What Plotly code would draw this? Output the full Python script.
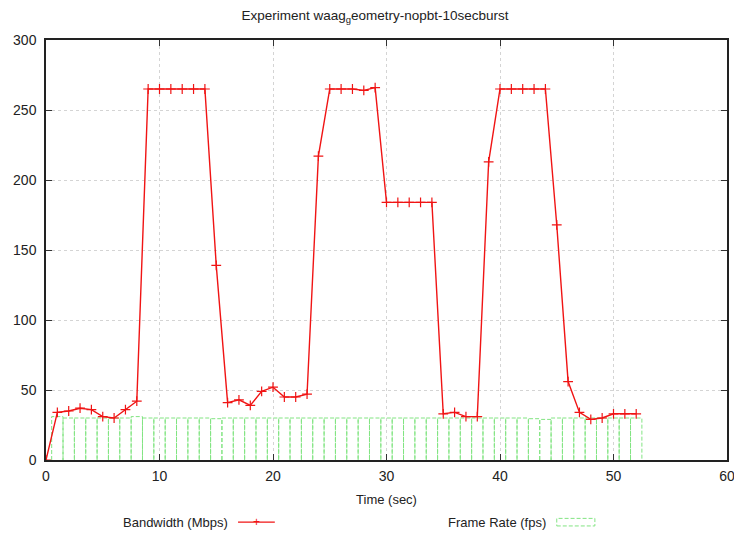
import plotly.graph_objects as go

# ---- data ----
time_s = list(range(0, 53))
bandwidth_mbps = [0, 34, 35, 37, 36, 31, 30, 36, 42, 265,
                  265, 265, 265, 265, 265, 139, 41, 43, 39, 49,
                  52, 45, 45, 47, 217, 265, 265, 265, 264, 266,
                  184, 184, 184, 184, 184, 33, 34, 31, 31, 213,
                  265, 265, 265, 265, 265, 168, 56, 34, 29, 30,
                  33, 33, 33]
frame_time = list(range(1, 53))
frame_rate = [31, 30, 30, 30, 30, 30, 30, 31, 30, 30,
              30, 30, 30, 30, 29.5, 30, 30, 30, 30, 30,
              30, 30, 30, 30, 30, 30, 30, 30, 30, 30,
              30, 30, 30, 30, 30, 30, 30, 30, 30, 30,
              30, 30, 29.5, 29, 30, 30, 30, 30, 30, 30,
              30, 30]
x_ticks = [0, 10, 20, 30, 40, 50, 60]
y_ticks = [0, 50, 100, 150, 200, 250, 300]

GREEN = "rgb(130,228,130)"
RED = "rgb(240,20,20)"

# box outlines for the frame-rate series (boxes of width 1 centred on each sample)
bx, by = [], []
for t, v in zip(frame_time, frame_rate):
    bx += [t - 0.5, t - 0.5, t + 0.5, t + 0.5, None]
    by += [0, v, v, 0, None]

fig = go.Figure()
fig.add_trace(go.Scatter(x=bx, y=by, mode="lines",
                         line=dict(color=GREEN, width=1, dash="4px,2px"),
                         name="Frame Rate (fps)", showlegend=False,
                         hoverinfo="skip"))
fig.add_trace(go.Scatter(x=time_s, y=bandwidth_mbps, mode="lines+markers",
                         line=dict(color=RED, width=1.4),
                         marker=dict(symbol="cross-thin", size=7,
                                     line=dict(color=RED, width=1.2)),
                         name="Bandwidth (Mbps)", showlegend=False))

font = dict(family="Liberation Sans, Arial, sans-serif", size=13, color="#222")
tick_font = dict(family="Liberation Sans, Arial, sans-serif", size=14, color="#222")

fig.update_layout(
    width=734, height=534,
    margin=dict(l=38, r=15, t=32, b=82, autoexpand=False),
    paper_bgcolor="white", plot_bgcolor="white",
    font=font,
    title=dict(text="Experiment waag<sub>g</sub>eometry-nopbt-10secburst",
               x=0.5, xanchor="center", y=0.995, yanchor="top",
               font=dict(size=13.5, color="#222")),
    showlegend=False,
)
fig.update_xaxes(range=[0, 60], tickvals=x_ticks, ticks="inside", ticklen=6,
                 tickcolor="#333", showline=True, linecolor="#222", linewidth=1.5,
                 mirror="ticks", showgrid=True, gridcolor="#d4d4d4",
                 griddash="dot", gridwidth=1, zeroline=False, automargin=False,
                 tickfont=tick_font, ticklabelstandoff=2,
                 title=dict(text="Time (sec)", standoff=12, font=font))
fig.update_yaxes(range=[0, 300], tickvals=y_ticks, ticks="inside", ticklen=6,
                 tickcolor="#333", showline=True, linecolor="#222", linewidth=1.5,
                 mirror="ticks", showgrid=True, gridcolor="#d4d4d4",
                 griddash="dot", gridwidth=1, zeroline=False, automargin=False,
                 tickfont=tick_font, ticklabelstandoff=5)

# gnuplot-style legend: text then sample
leg_y = -0.148
fig.add_annotation(text="Bandwidth (Mbps)", xref="paper", yref="paper",
                   x=0.27, y=leg_y, xanchor="right", yanchor="middle",
                   showarrow=False, font=font)
fig.add_shape(type="line", xref="paper", yref="paper",
              x0=0.282, x1=0.336, y0=leg_y, y1=leg_y,
              line=dict(color=RED, width=1.4))
fig.add_annotation(text="+", xref="paper", yref="paper",
                   x=0.309, y=leg_y, xanchor="center", yanchor="middle",
                   showarrow=False, font=dict(size=12, color=RED))
fig.add_annotation(text="Frame Rate (fps)", xref="paper", yref="paper",
                   x=0.737, y=leg_y, xanchor="right", yanchor="middle",
                   showarrow=False, font=font)
fig.add_shape(type="rect", xref="paper", yref="paper",
              x0=0.75, x1=0.806, y0=leg_y - 0.009, y1=leg_y + 0.009,
              line=dict(color=GREEN, width=1, dash="4px,2px"))

fig.write_html("out.html")
